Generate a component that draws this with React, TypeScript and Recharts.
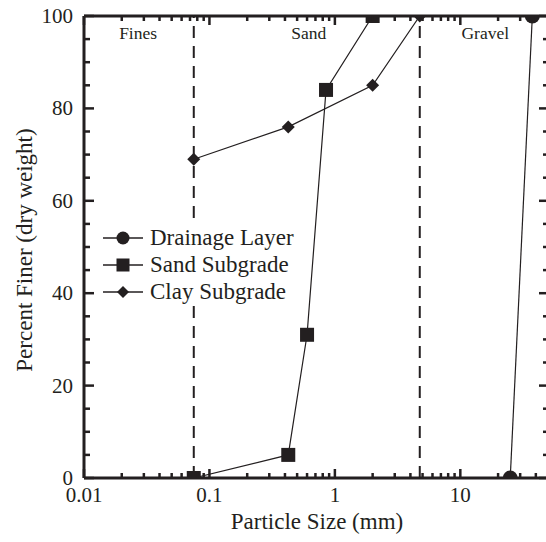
import React from "react";
import {
  ComposedChart,
  Line,
  XAxis,
  YAxis,
  ReferenceLine,
  ReferenceDot,
  Legend,
  Customized,
} from "recharts";

// gradation data (particle size in mm, percent finer)
const drainageSize = [25, 37.5];
const drainagePct = [0, 100];
const sandSize = [0.075, 0.425, 0.6, 0.85, 2];
const sandPct = [0, 5, 31, 84, 100];
const claySize = [0.075, 0.425, 2, 4.75];
const clayPct = [69, 76, 85, 100];

// soil class boundaries and labels
const boundaries = [0.075, 4.75];
const classNames = ["Fines", "Sand", "Gravel"];
const classSize = [0.027, 0.62, 15.8];
const classPct = [96.3, 96.3, 96.3];

const xMajor = [0.01, 0.1, 1, 10];
const xMajorLabels = ["0.01", "0.1", "1", "10"];
const xTicks = [
  0.01, 0.02, 0.03, 0.04, 0.05, 0.06, 0.07, 0.08, 0.09,
  0.1, 0.2, 0.3, 0.4, 0.5, 0.6, 0.7, 0.8, 0.9,
  1, 2, 3, 4, 5, 6, 7, 8, 9,
  10, 20, 30, 40,
];
const yMajor = [0, 20, 40, 60, 80, 100];
const yTicks = [
  0, 5, 10, 15, 20, 25, 30, 35, 40, 45, 50,
  55, 60, 65, 70, 75, 80, 85, 90, 95, 100,
];

const INK = "#231f20";
const FONT = "'Liberation Serif', 'Times New Roman', serif";

const zip = (xs: number[], ys: number[]) =>
  xs.map((size, i) => ({ size, pct: ys[i] }));

const drainageData = zip(drainageSize, drainagePct);
const sandData = zip(sandSize, sandPct);
const clayData = zip(claySize, clayPct);

const Circle = ({ cx, cy, r }: any) => <circle cx={cx} cy={cy} r={r} fill={INK} />;
const Square = ({ cx, cy, r }: any) => (
  <rect x={cx - r} y={cy - r} width={2 * r} height={2 * r} fill={INK} />
);
const Diamond = ({ cx, cy, r }: any) => (
  <polygon
    points={`${cx},${cy - r} ${cx + r},${cy} ${cx},${cy + r} ${cx - r},${cy}`}
    fill={INK}
  />
);

// dot renderers for the plotted series (Recharts passes its own r, so fix it here)
const dotOf = (Marker: any, r: number) => (p: any) => (
  <Marker key={`${p.cx}-${p.cy}`} cx={p.cx} cy={p.cy} r={r} />
);

const BottomTick = ({ x, y, payload }: any) => {
  const i = xMajor.indexOf(payload.value);
  const major = i >= 0;
  return (
    <g>
      <line x1={x} x2={x} y1={y} y2={y - (major ? 9 : 5)} stroke={INK} strokeWidth={2.5} />
      {major && (
        <text x={x} y={y + 24} textAnchor="middle" fontSize={21} fontFamily={FONT} fill={INK}>
          {xMajorLabels[i]}
        </text>
      )}
    </g>
  );
};

const TopTick = ({ x, y, payload }: any) => {
  const major = xMajor.includes(payload.value);
  return <line x1={x} x2={x} y1={y} y2={y + (major ? 9 : 5)} stroke={INK} strokeWidth={2.5} />;
};

const LeftTick = ({ x, y, payload }: any) => {
  const major = yMajor.includes(payload.value);
  return (
    <g>
      <line x1={x} x2={x + (major ? 10 : 6)} y1={y} y2={y} stroke={INK} strokeWidth={2.5} />
      {major && (
        <text x={x - 11} y={y + 7} textAnchor="end" fontSize={21} fontFamily={FONT} fill={INK}>
          {payload.value}
        </text>
      )}
    </g>
  );
};

const RightTick = ({ x, y, payload }: any) => {
  const major = yMajor.includes(payload.value);
  return <line x1={x} x2={x - (major ? 9 : 5)} y1={y} y2={y} stroke={INK} strokeWidth={2.5} />;
};

const legendItems = [
  { name: "Drainage Layer", Marker: Circle, r: 6.5 },
  { name: "Sand Subgrade", Marker: Square, r: 6.5 },
  { name: "Clay Subgrade", Marker: Diamond, r: 6 },
];

const renderLegend = () => (
  <div style={{ background: "#fff", fontFamily: FONT, color: INK }}>
    {legendItems.map(({ name, Marker, r }) => (
      <div key={name} style={{ display: "flex", alignItems: "center", height: 27 }}>
        <svg width={46} height={20}>
          <line x1={3} x2={43} y1={10} y2={10} stroke={INK} strokeWidth={1.5} />
          <Marker cx={23} cy={10} r={r} />
        </svg>
        <span style={{ fontSize: 23, marginLeft: 4, lineHeight: "27px" }}>{name}</span>
      </div>
    ))}
  </div>
);

const Titles = () => (
  <g fontFamily={FONT} fill={INK} fontSize={23}>
    <text x={317} y={529} textAnchor="middle">
      Particle Size (mm)
    </text>
    <text x={32} y={250} textAnchor="middle" transform="rotate(-90 32 250)">
      Percent Finer (dry weight)
    </text>
  </g>
);

export default function App() {
  return (
    <div style={{ position: "absolute", left: 0, top: 0, width: 546, height: 542, overflow: "hidden", background: "#fff" }}>
      <ComposedChart
        width={550}
        height={542}
        margin={{ top: 0, right: 0, bottom: 0, left: 0 }}
      >
        <XAxis
          dataKey="size"
          type="number"
          scale="log"
          domain={[0.01, 50]}
          allowDataOverflow
          ticks={xTicks}
          interval={0}
          height={64}
          tickSize={0}
          tickMargin={0}
          tickLine={false}
          tick={BottomTick}
          axisLine={{ stroke: INK, strokeWidth: 3 }}
        />
        <XAxis
          xAxisId="top"
          orientation="top"
          dataKey="size"
          type="number"
          scale="log"
          domain={[0.01, 50]}
          allowDataOverflow
          ticks={xTicks}
          interval={0}
          height={16}
          tickSize={0}
          tickMargin={0}
          tickLine={false}
          tick={TopTick}
          axisLine={{ stroke: INK, strokeWidth: 3 }}
        />
        <YAxis
          type="number"
          domain={[0, 100]}
          allowDataOverflow
          ticks={yTicks}
          interval={0}
          width={84}
          tickSize={0}
          tickMargin={0}
          tickLine={false}
          tick={LeftTick}
          axisLine={{ stroke: INK, strokeWidth: 3 }}
        />
        <YAxis
          yAxisId="right"
          orientation="right"
          type="number"
          domain={[0, 100]}
          allowDataOverflow
          ticks={yTicks}
          interval={0}
          width={2}
          tickSize={0}
          tickMargin={0}
          tickLine={false}
          tick={RightTick}
          axisLine={{ stroke: INK, strokeWidth: 3 }}
        />
        {boundaries.map((b) => (
          <ReferenceLine
            key={b}
            x={b}
            stroke={INK}
            strokeWidth={2}
            strokeDasharray="12 8"
          />
        ))}
        {classNames.map((name, i) => (
          <ReferenceDot
            key={name}
            x={classSize[i]}
            y={classPct[i]}
            r={0}
            shape={({ cx, cy }: any) => (
              <text x={cx} y={cy + 6} textAnchor="middle" fontSize={17.5} fontFamily={FONT} fill={INK}>
                {name}
              </text>
            )}
          />
        ))}
        <Line
          data={drainageData}
          dataKey="pct"
          name="Drainage Layer"
          stroke={INK}
          strokeWidth={1.2}
          dot={dotOf(Circle, 7.5)}
          isAnimationActive={false}
        />
        <Line
          data={sandData}
          dataKey="pct"
          name="Sand Subgrade"
          stroke={INK}
          strokeWidth={1.2}
          dot={dotOf(Square, 7)}
          isAnimationActive={false}
        />
        <Line
          data={clayData}
          dataKey="pct"
          name="Clay Subgrade"
          stroke={INK}
          strokeWidth={1.2}
          dot={dotOf(Diamond, 6.5)}
          isAnimationActive={false}
        />
        <Legend
          layout="horizontal"
          verticalAlign="middle"
          align="center"
          content={renderLegend}
          wrapperStyle={{ left: 100, top: 224, width: 205 }}
        />
        <Customized component={Titles} />
      </ComposedChart>
    </div>
  );
}
